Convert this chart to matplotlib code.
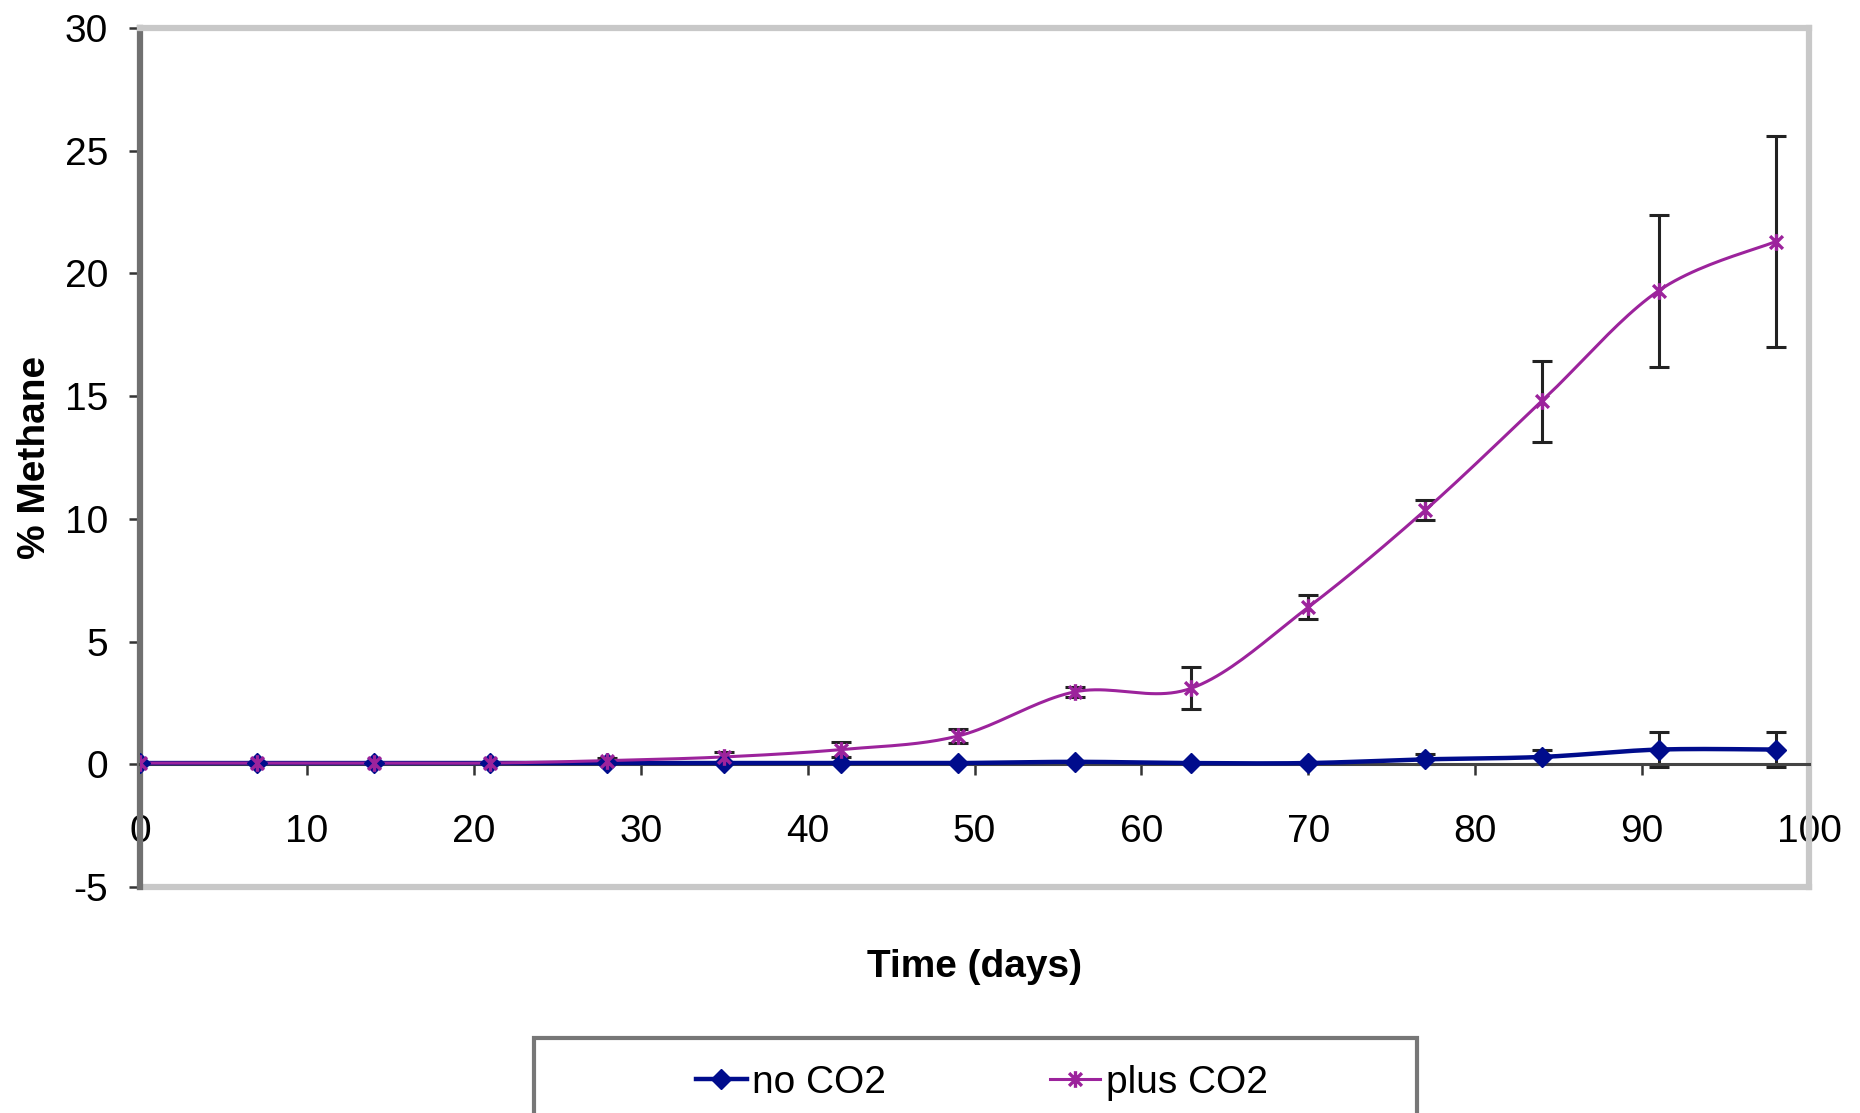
import numpy as np
import matplotlib
matplotlib.use('Agg')
import matplotlib.pyplot as plt
from matplotlib.patches import Rectangle
from matplotlib.path import Path

plt.rcParams['font.family'] = ['Liberation Sans', 'DejaVu Sans']
plt.rcParams['axes.unicode_minus'] = False

### data
days = [0, 7, 14, 21, 28, 35, 42, 49, 56, 63, 70, 77, 84, 91, 98]
no_co2 = [0.05, 0.05, 0.05, 0.05, 0.05, 0.05, 0.05, 0.05, 0.1, 0.05, 0.05, 0.2, 0.3, 0.6, 0.6]
no_co2_err = [0.0, 0.0, 0.0, 0.0, 0.0, 0.0, 0.0, 0.0, 0.0, 0.0, 0.0, 0.2, 0.3, 0.7, 0.7]
plus_co2 = [0.05, 0.05, 0.05, 0.05, 0.15, 0.3, 0.6, 1.15, 2.95, 3.1, 6.4, 10.35, 14.8, 19.3, 21.3]
plus_co2_err = [0.05, 0.05, 0.05, 0.05, 0.1, 0.2, 0.3, 0.3, 0.2, 0.85, 0.5, 0.4, 1.65, 3.1, 4.3]

def smooth(x, y, n=24):
    ### excel-like smoothed line: bezier with control points from neighbours
    x = np.asarray(x, float)
    y = np.asarray(y, float)
    px = np.concatenate([[x[0]], x, [x[-1]]])
    py = np.concatenate([[y[0]], y, [y[-1]]])
    xs, ys = [], []
    t = np.linspace(0, 1, n)
    for i in range(1, len(px) - 2):
        p0 = np.array([px[i], py[i]])
        p3 = np.array([px[i+1], py[i+1]])
        c1 = p0 + (np.array([px[i+1], py[i+1]]) - np.array([px[i-1], py[i-1]])) / 6.0
        c2 = p3 - (np.array([px[i+2], py[i+2]]) - np.array([px[i], py[i]])) / 6.0
        b = ((1-t)**3)[:, None]*p0 + (3*(1-t)**2*t)[:, None]*c1 + (3*(1-t)*t**2)[:, None]*c2 + (t**3)[:, None]*p3
        xs.extend(b[:, 0]); ys.extend(b[:, 1])
    return xs, ys

### star marker: x with a vertical bar
star = Path([(-1, -1), (1, 1), (-1, 1), (1, -1), (0, -1.3), (0, 1.3)],
            [Path.MOVETO, Path.LINETO, Path.MOVETO, Path.LINETO, Path.MOVETO, Path.LINETO])

blue = '#000c8c'
purple = '#9c239c'
fs = 28

fig = plt.figure(figsize=(18.6, 11.13), dpi=100)
ax = fig.add_axes([140/1860, 1-887/1113, (1809-140)/1860, (887-28)/1113])

ax.errorbar(days, no_co2, yerr=no_co2_err, fmt='none', ecolor='#222222', elinewidth=2.2, capsize=7, capthick=2.2, zorder=2)
ax.errorbar(days, plus_co2, yerr=plus_co2_err, fmt='none', ecolor='#222222', elinewidth=2.2, capsize=7, capthick=2.2, zorder=2)

sx, sy = smooth(days, no_co2)
ax.plot(sx, sy, color=blue, lw=3.2, zorder=3)
sx, sy = smooth(days, plus_co2)
ax.plot(sx, sy, color=purple, lw=2.2, zorder=4)
ax.plot(days, no_co2, ls='none', marker='D', ms=10, color=blue, zorder=5)
ax.plot(days, plus_co2, ls='none', marker=star, ms=12, mew=2.4, color=purple, mfc='none', zorder=6)

ax.set_xlim(0, 100)
ax.set_ylim(-5, 30)
ax.set_xticks(range(0, 101, 10))
ax.set_yticks(range(-5, 31, 5))

ax.spines['bottom'].set_position(('data', 0))
ax.spines['bottom'].set_color('#444444')
ax.spines['bottom'].set_linewidth(2.2)
ax.spines['left'].set_color('#707070')
ax.spines['left'].set_linewidth(4.5)
ax.spines['top'].set_color('#c8c8c8')
ax.spines['top'].set_linewidth(4.5)
ax.spines['right'].set_color('#c8c8c8')
ax.spines['right'].set_linewidth(4.5)
ax.axhline(-5, color='#c8c8c8', lw=4.5, clip_on=False, zorder=1)

ax.tick_params(axis='x', direction='out', length=8, width=1.8, color='#333333', labelsize=fs, pad=28)
ax.tick_params(axis='y', direction='out', length=8, width=1.8, color='#333333', labelsize=fs, pad=15)

ax.set_xlabel('Time (days)', fontsize=fs, fontweight='bold', labelpad=0)
ax.xaxis.set_label_coords(0.5, -0.072)
ax.set_ylabel('% Methane', fontsize=fs, fontweight='bold')
ax.yaxis.set_label_coords(-0.052, 0.5)

### legend box, cut by the bottom of the picture as in the reference
fig.patches.append(Rectangle((534/1860, -0.1), (1417-534)/1860, 0.1 + (1113-1038)/1113,
                             transform=fig.transFigure, fill=False, edgecolor='#777777', lw=3))
h1, = ax.plot([], [], color=blue, lw=3.2, marker='D', ms=10)
h2, = ax.plot([], [], color=purple, lw=2.2, marker=star, ms=12, mew=2.4, mfc='none')
fig.legend([h1, h2], ['no CO2', 'plus CO2'], loc='center', bbox_to_anchor=(0.528, 0.027),
           ncol=2, frameon=False, fontsize=fs, handlelength=1.3, handletextpad=0.15,
           columnspacing=4.2, markerscale=1.0)

fig.savefig('out.png', dpi=100, facecolor='white')
